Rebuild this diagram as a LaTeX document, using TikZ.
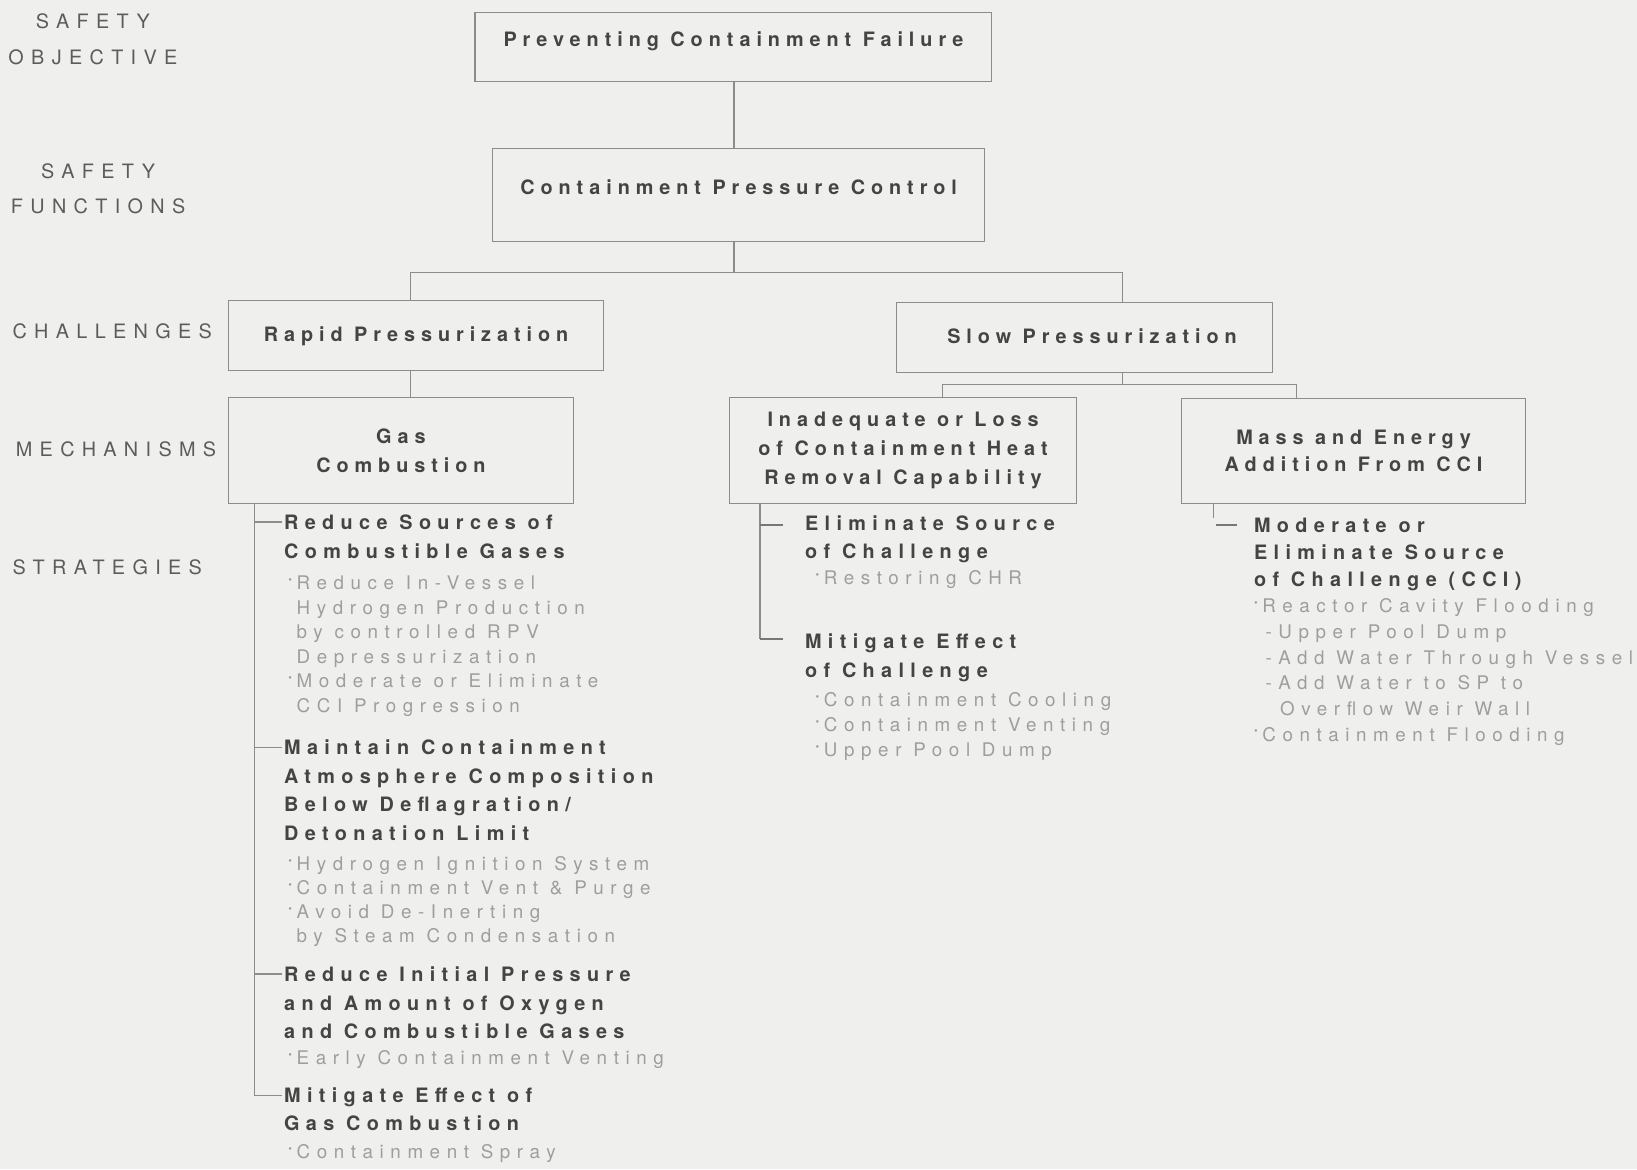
\documentclass[tikz,border=0pt]{standalone}
\usepackage{fontspec}
\usetikzlibrary{calc}
\setmainfont{TeX Gyre Heros}
\newfontfamily\hvbox[LetterSpace=30]{TeX Gyre Heros}
\newfontfamily\hvbold[LetterSpace=32]{TeX Gyre Heros}
\newfontfamily\hvlight[LetterSpace=35]{TeX Gyre Heros}
\newfontfamily\hvcaps[LetterSpace=37]{TeX Gyre Heros}
\definecolor{bgc}{RGB}{239,239,237}
\definecolor{ink}{RGB}{68,68,68}
\definecolor{pale}{RGB}{158,158,158}
\definecolor{lbl}{RGB}{92,92,92}
\definecolor{edge}{RGB}{140,140,140}
\newcommand\bul{\makebox[8pt][l]{\raisebox{6pt}{\fontsize{10}{10}\selectfont •}}}
\newcommand\ind{\hspace*{8pt}}
\tikzset{
  box/.style={draw=edge, line width=1.2pt, inner sep=0pt, align=center, text=ink,
    font=\hvbox\bfseries\fontsize{19}{27.5}\selectfont},
  head/.style={anchor=base west, inner sep=0pt, align=left, text=ink,
    font=\hvbold\bfseries\fontsize{19}{27.5}\selectfont},
  item/.style={anchor=base west, inner sep=0pt, align=left, text=pale,
    font=\hvlight\fontsize{18}{23.4}\selectfont},
  side/.style={inner sep=0pt, align=center, text=lbl,
    font=\hvcaps\fontsize{19}{34.2}\selectfont},
  wire/.style={draw=edge, line width=1.2pt},
  dashtick/.style={draw=edge!85!black, line width=2.2pt}
}
\begin{document}
\begin{tikzpicture}[x=1pt,y=-1pt]
\fill[bgc] (0,0) rectangle (1568,1120);
\useasboundingbox (0,0) rectangle (1568,1120);

% side labels (anchor base = last line)
\node[side, anchor=base] (lobj) at (89,61.7) {SAFETY\\OBJECTIVE};
\node[side, anchor=base] (lfun) at (94,204.8) {SAFETY\\FUNCTIONS};
\node[side, anchor=base west] (lcha) at (12,324) {CHALLENGES};
\node[side, anchor=base west] (lmec) at (15,437) {MECHANISMS};
\node[side, anchor=base west] (lstr) at (12,550) {STRATEGIES};

% boxes
\node[box, minimum width=495pt, minimum height=66pt, text height=10pt, text depth=10pt] (prev) at (702.5,45) {Preventing Containment Failure};
\node[box, minimum width=471pt, minimum height=89pt, text height=10pt, text depth=10pt] (cpc) at (707.5,186.5) {Containment Pressure Control};
\node[box, minimum width=359pt, minimum height=67pt, text height=11pt, text depth=0pt] (rapid) at (398.5,321.5) {Rapid Pressurization};
\node[box, minimum width=360pt, minimum height=67pt, text height=11pt, text depth=0pt] (slow) at (1039,323.5) {\hspace*{14pt}Slow Pressurization};
\node[box, minimum width=330pt, minimum height=101pt] (gas) at (384,431.5) {Gas\\Combustion};
\node[box, minimum width=332pt, minimum height=101pt] (inad) at (865,431.5) {Inadequate or Loss\\of Containment Heat\\Removal Capability};
\node[box, minimum width=329pt, minimum height=101pt, font=\hvbox\bfseries\fontsize{19}{26}\selectfont] (mass) at (1296.5,432) {Mass and Energy\\Addition From CCI};

% tree connectors
\coordinate (jTop) at (703,261);
\coordinate (busL) at (393,261);
\coordinate (busR) at (1075,261);
\draw[wire] (prev.south -| jTop) -- (cpc.north -| jTop);
\draw[wire] (cpc.south -| jTop) -- (jTop);
\draw[wire] (busL) -- (busR);
\draw[wire] (busL) -- (busL |- rapid.north);
\draw[wire] (busR) -- (busR |- slow.north);
\draw[wire] (rapid.south -| busL) -- (gas.north -| busL);
\coordinate (bus2) at (1075,368);
\coordinate (bus2L) at (903,368);
\coordinate (bus2R) at (1242,368);
\draw[wire] (slow.south -| bus2) -- (bus2);
\draw[wire] (bus2L) -- (bus2R);
\draw[wire] (bus2L) -- (bus2L |- inad.north);
\draw[wire] (bus2R) -- (bus2R |- mass.north);

% strategies: gas combustion (anchor base = last line)
\node[head] (sA1) at (272,534.5) {Reduce Sources of\\Combustible Gases};
\node[item] (iA1) at (276,682) {\bul Reduce In-Vessel\\\ind Hydrogen Production\\\ind by controlled RPV\\\ind Depressurization\\\bul Moderate or Eliminate\\\ind CCI Progression};
\node[head, font=\hvbold\bfseries\fontsize{19}{27.3}\selectfont] (sA2) at (272,805) {Maintain Containment\\Atmosphere Composition\\Below Deflagration/\\Detonation Limit};
\node[item, font=\hvlight\fontsize{18}{22.8}\selectfont] (iA2) at (276,902.4) {\bul Hydrogen Ignition System\\\bul Containment Vent \& Purge\\\bul Avoid De-Inerting\\\ind by Steam Condensation};
\node[head] (sA3) at (272,995) {Reduce Initial Pressure\\and Amount of Oxygen\\and Combustible Gases};
\node[item] (iA3) at (276,1020) {\bul Early Containment Venting};
\node[head, font=\hvbold\bfseries\fontsize{19}{26.5}\selectfont] (sA4) at (272,1082.5) {Mitigate Effect of\\Gas Combustion};
\node[item] (iA4) at (276,1110) {\bul Containment Spray};

\coordinate (tA1) at (244,500);
\coordinate (tA2) at (244,716);
\coordinate (tA3) at (244,933);
\coordinate (tA4) at (244,1049);
\draw[wire] (gas.south -| tA1) -- (tA4) -- ($(tA4 -| sA4.west)+(-2,0)$);
\draw[wire] (tA1) -- ($(tA1 -| sA1.west)+(-2,0)$);
\draw[wire] (tA2) -- ($(tA2 -| sA2.west)+(-2,0)$);
\draw[wire] (tA3) -- ($(tA3 -| sA3.west)+(-2,0)$);

% strategies: heat removal
\node[head, font=\hvbold\bfseries\fontsize{19}{26.5}\selectfont] (sB1) at (771,534.5) {Eliminate Source\\of Challenge};
\node[item] (iB1) at (781,560) {\bul Restoring CHR};
\node[head, font=\hvbold\bfseries\fontsize{19}{27}\selectfont] (sB2) at (771,648.5) {Mitigate Effect\\of Challenge};
\node[item, font=\hvlight\fontsize{18}{24}\selectfont] (iB2) at (781,725) {\bul Containment Cooling\\\bul Containment Venting\\\bul Upper Pool Dump};
\coordinate (tB1) at (728,503);
\coordinate (tB2) at (728,612);
\draw[wire] (inad.south -| tB1) -- (tB2);
\draw[dashtick] (tB1) -- ($(tB1 -| sB1.west)+(-21,0)$);
\draw[dashtick] (tB2) -- ($(tB2 -| sB2.west)+(-21,0)$);

% strategies: CCI
\node[head, font=\hvbold\bfseries\fontsize{19}{26}\selectfont] (sC1) at (1201,562) {Moderate or\\Eliminate Source\\of Challenge (CCI)};
\node[item, font=\hvlight\fontsize{18}{24.6}\selectfont] (iC1) at (1201,710) {\bul Reactor Cavity Flooding\\\hspace*{11pt}-Upper Pool Dump\\\hspace*{11pt}-Add Water Through Vessel\\\hspace*{11pt}-Add Water to SP to\\\hspace*{25pt}Overflow Weir Wall\\\bul Containment Flooding};
\coordinate (tC0) at (1162,496);
\coordinate (tC1) at (1165,503);
\draw[wire] (mass.south -| tC0) -- (tC0);
\draw[dashtick] (tC1) -- ($(tC1 -| sC1.west)+(-16,0)$);
\end{tikzpicture}
\end{document}
